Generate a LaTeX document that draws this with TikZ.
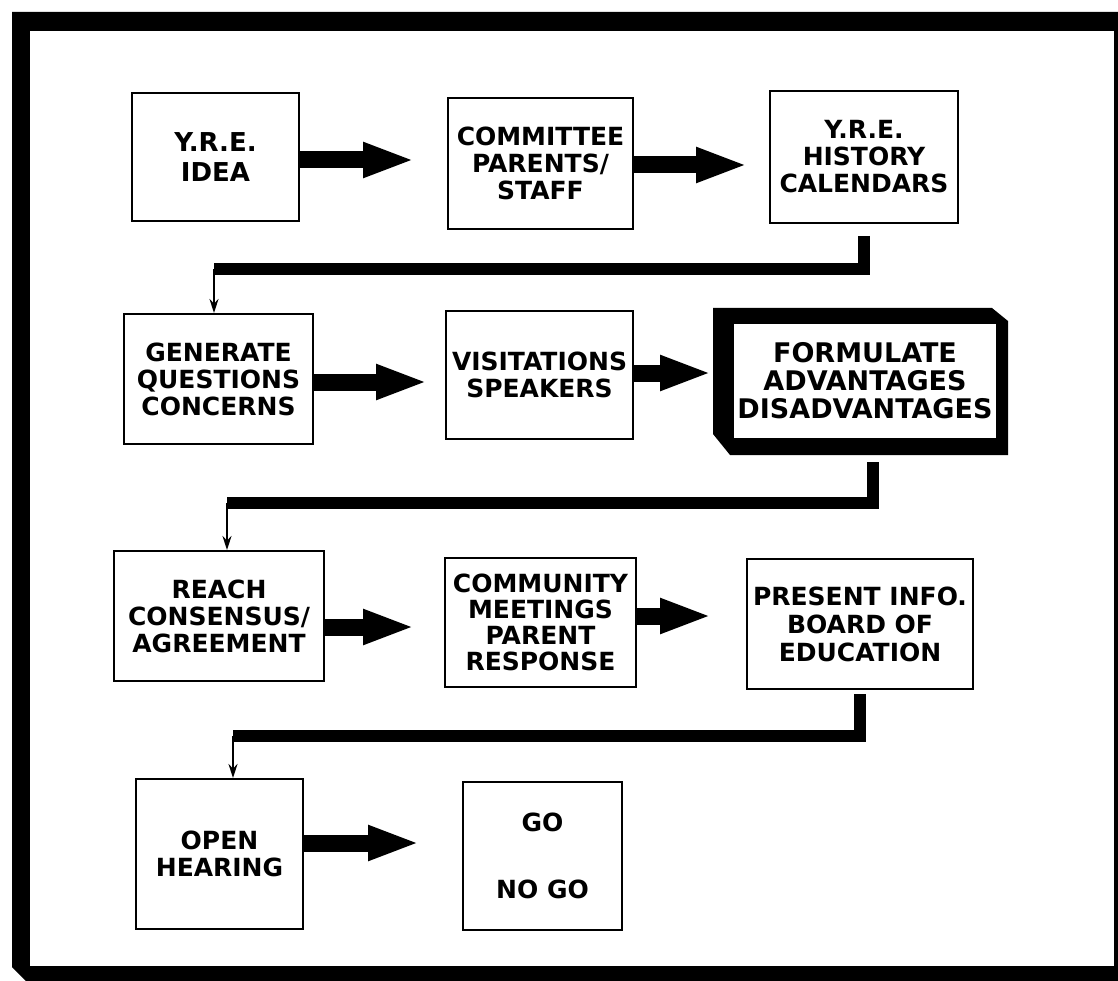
\documentclass[tikz,border=0pt]{standalone}
\usepackage{fontspec}
\setmainfont{DejaVu Sans}
\usetikzlibrary{arrows.meta}
\tikzset{
 box/.style={draw=black, line width=2pt, fill=white, anchor=north west, align=center,
   font=\fontsize{25}{27}\selectfont\bfseries, inner sep=0pt},
 bigbox/.style={box, draw=none, font=\fontsize{27}{28}\selectfont\bfseries},
 blk/.style={line width=17pt, -{Triangle[length=52pt,width=32pt]}},
 bar/.style={line width=12pt, line join=miter},
 thinarr/.style={line width=1.8pt, -{Stealth[length=14pt,width=9pt]}},
}
\begin{document}
\begin{tikzpicture}[x=1pt,y=-1pt]
\useasboundingbox (0,0) rectangle (1118,981);
% page frame
\fill[black] (12,12) -- (1118,12) -- (1118,981) -- (26,981) -- (12,967) -- cycle;
\fill[white] (30,31) rectangle (1114,966);
% thick frame of box 6
\fill[black] (713,308) -- (992,308) -- (1008,321) -- (1008,455) -- (730,455) -- (713,434) -- cycle;

% row 1
\node[box, font=\fontsize{26}{30}\selectfont\bfseries, minimum width=167pt, minimum height=128pt] (b1) at (131,92) {Y.R.E.\\IDEA};
\node[box, minimum width=185pt, minimum height=131pt] (b2) at (447,97) {COMMITTEE\\PARENTS/\\STAFF};
\node[box, minimum width=188pt, minimum height=132pt] (b3) at (769,90) {Y.R.E.\\HISTORY\\CALENDARS};
% row 2
\node[box, minimum width=189pt, minimum height=130pt] (b4) at (123,313) {GENERATE\\QUESTIONS\\CONCERNS};
\node[box, minimum width=187pt, minimum height=128pt] (b5) at (445,310) {VISITATIONS\\SPEAKERS};
\node[bigbox, fill=white, minimum width=262pt, minimum height=114pt] (b6) at (733,323) {FORMULATE\\ADVANTAGES\\DISADVANTAGES};
% row 3
\node[box, minimum width=210pt, minimum height=130pt] (b7) at (113,550) {REACH\\CONSENSUS/\\AGREEMENT};
\node[box, font=\fontsize{25}{26}\selectfont\bfseries, minimum width=191pt, minimum height=129pt] (b8) at (444,557) {COMMUNITY\\MEETINGS\\PARENT\\RESPONSE};
\node[box, font=\fontsize{25}{28}\selectfont\bfseries, minimum width=226pt, minimum height=130pt] (b9) at (746,558) {PRESENT INFO.\\BOARD OF\\EDUCATION};
% row 4
\node[box, minimum width=167pt, minimum height=150pt] (b10) at (135,778) {OPEN\\HEARING};
\node[box, minimum width=159pt, minimum height=148pt] (b11) at (462,781) {GO\\[40pt]NO GO};

% block arrows
\coordinate (t1) at (415,160);
\coordinate (t2) at (748,165);
\coordinate (t3) at (428,382);
\coordinate (t4) at (712,373);
\coordinate (t5) at (415,627);
\coordinate (t6) at (712,616);
\coordinate (t7) at (420,843);
\draw[blk] (b1.east |- t1) -- (t1);
\draw[blk] (b2.east |- t2) -- (t2);
\draw[blk] (b4.east |- t3) -- (t3);
\draw[blk] (b5.east |- t4) -- (t4);
\draw[blk] (b7.east |- t5) -- (t5);
\draw[blk] (b8.east |- t6) -- (t6);
\draw[blk] (b10.east |- t7) -- (t7);

% elbow connectors
\coordinate (k1) at (214,269);
\coordinate (k2) at (227,503);
\coordinate (k3) at (233,736);
\draw[bar] ([yshift=-12pt]b3.south) |- (k1);
\draw[thinarr] (k1) -- (k1 |- b4.north);
\draw[bar] ([xshift=8pt,yshift=-23pt]b6.south) |- (k2);
\draw[thinarr] (k2) -- (k2 |- b7.north);
\draw[bar] ([yshift=-4pt]b9.south) |- (k3);
\draw[thinarr] (k3) -- (k3 |- b10.north);
\end{tikzpicture}
\end{document}
